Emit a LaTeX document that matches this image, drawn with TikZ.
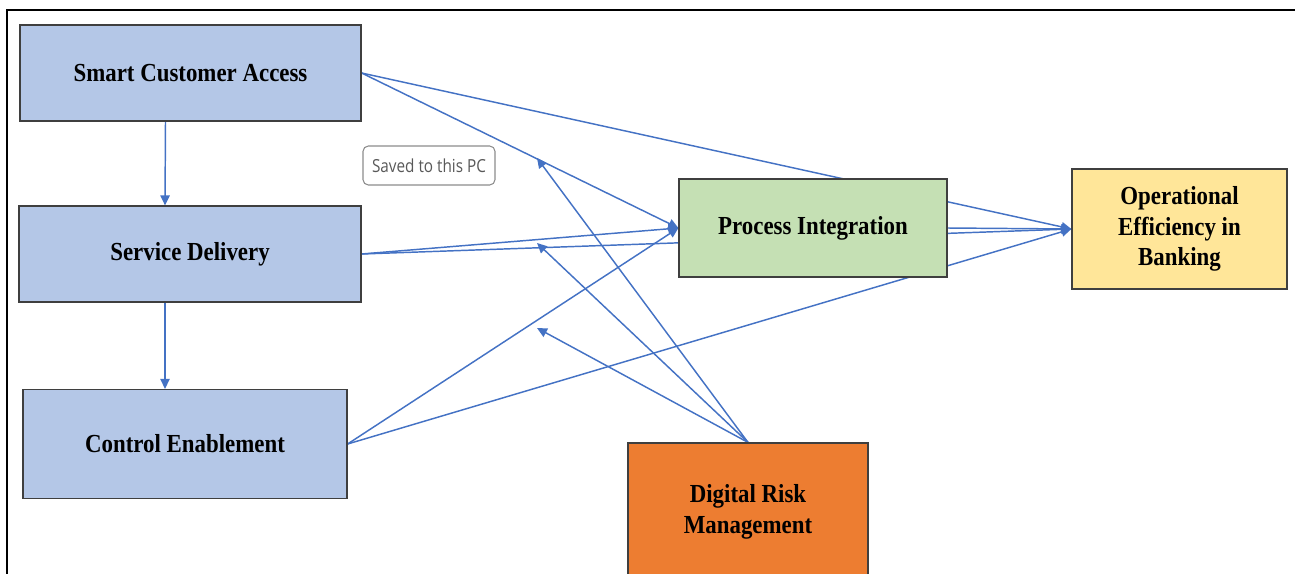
\documentclass[tikz,border=0pt]{standalone}
\usepackage{fontspec}
\setmainfont{Liberation Serif}
\newfontfamily\boxfont[FakeStretch=0.88]{Liberation Serif}
\newfontfamily\notefont[FakeStretch=0.85]{Open Sans}
\usetikzlibrary{arrows.meta,backgrounds}
\definecolor{bluebox}{HTML}{B4C7E7}
\definecolor{greenbox}{HTML}{C5E0B4}
\definecolor{yellowbox}{HTML}{FFE699}
\definecolor{orangebox}{HTML}{ED7D31}
\definecolor{boxline}{HTML}{3F3F3F}
\definecolor{linkblue}{HTML}{4472C4}
\definecolor{notegray}{HTML}{595959}
\definecolor{noteline}{HTML}{8C8C8C}
\begin{document}
\begin{tikzpicture}[x=0.75pt,y=-0.75pt,
  box/.style={draw=boxline, line width=0.9pt, align=center, inner sep=0pt,
    font=\boxfont\bfseries\fontsize{19.5}{23}\selectfont},
  conn/.style={draw=linkblue, line width=1.1pt, -{Triangle[length=7.5pt,width=7pt]}},
  note/.style={draw=noteline, line width=0.8pt, rounded corners=4pt, fill=white,
    text=notegray, inner sep=0pt, font=\notefont\fontsize{13.5}{16}\selectfont}]
\useasboundingbox (0,0) rectangle (1295,574);
\clip (0,0) rectangle (1295,574);
\draw[line width=1.5pt] (7,574) -- (7,10) -- (1295,10);

\node[box, fill=bluebox, minimum width=255.75pt, minimum height=72pt] (sca) at (190.5,73) {Smart Customer Access};
\node[box, fill=bluebox, minimum width=256.5pt, minimum height=72pt] (sd) at (190,254) {Service Delivery};
\node[box, fill=bluebox, minimum width=243pt, minimum height=81.75pt] (ce) at (185,444) {Control Enablement};
\node[box, fill=greenbox, minimum width=201pt, minimum height=73.5pt] (pi) at (813,228) {Process Integration};
\node[box, fill=yellowbox, minimum width=161.25pt, minimum height=90pt] (oe) at (1179.5,229) {Operational\\Efficiency in\\Banking};
\node[box, fill=orangebox, minimum width=180pt, minimum height=103.5pt] (drm) at (748,512) {Digital Risk\\Management};
\node[note, minimum width=99pt, minimum height=29.25pt] (saved) at (429,165.5) {Saved to this PC};

\coordinate (m1) at (537,158);
\coordinate (m2) at (537,243);
\coordinate (m3) at (537,328);

\begin{scope}[on background layer]
  \draw[conn] ([xshift=-18.75pt]sca.south) -- ([xshift=-18.75pt]sd.north);
  \draw[conn] ([xshift=-18.75pt]sd.south) -- ([xshift=-15pt]ce.north);
  \draw[conn] (sca.east) -- (pi.west);
  \draw[conn] (sca.east) -- (oe.west);
  \draw[conn] (sd.east) -- (pi.west);
  \draw[conn] (sd.east) -- (oe.west);
  \draw[conn] (ce.east) -- (pi.west);
  \draw[conn] (ce.east) -- (oe.west);
  \draw[conn] (pi.east) -- (oe.west);
  \draw[conn] (drm.north) -- (m1);
  \draw[conn] (drm.north) -- (m2);
  \draw[conn] (drm.north) -- (m3);
\end{scope}
\end{tikzpicture}
\end{document}
